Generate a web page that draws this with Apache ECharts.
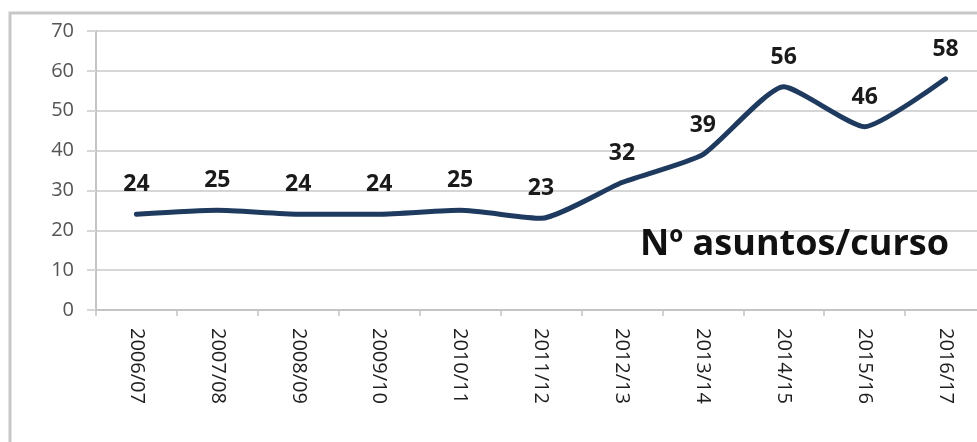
<!DOCTYPE html>
<html>
<head>
<meta charset="utf-8">
<script src="https://cdn.jsdelivr.net/npm/echarts@6/dist/echarts.min.js"></script>
<style>
  html, body { margin: 0; padding: 0; background: #fff; }
  #chart { width: 977px; height: 442px; }
</style>
</head>
<body>
<div id="chart"></div>
<script>
// course years and number of matters per course
const cursos = ['2006/07', '2007/08', '2008/09', '2009/10', '2010/11', '2011/12',
  '2012/13', '2013/14', '2014/15', '2015/16', '2016/17']
const asuntos = [24, 25, 24, 24, 25, 23, 32, 39, 56, 46, 58]
const yTicks = { min: 0, max: 70, interval: 10 }
const titulo = 'Nº asuntos/curso'

const font = '"Open Sans", "DejaVu Sans", sans-serif'
const lineColor = '#1f3a5f'

const chart = echarts.init(document.getElementById('chart'), null, { renderer: 'canvas' })

const option = {
  animation: false,
  backgroundColor: '#fff',
  // the plot area runs a little past the right edge of the picture
  grid: { left: 96, top: 31, width: 890, bottom: 132, containLabel: false, outerBoundsMode: 'none' },
  graphic: [
    {
      type: 'rect',
      shape: { x: 10, y: 13, width: 1000, height: 500 },
      style: { fill: 'none', stroke: '#c8c8c8', lineWidth: 3 },
      z: 0
    },
    {
      type: 'text',
      x: 640,
      y: 245,
      style: {
        text: titulo,
        font: 'bold 36px ' + font,
        fill: '#111',
        verticalAlign: 'middle',
        align: 'left'
      },
      z: 10
    }
  ],
  xAxis: {
    type: 'category',
    data: cursos,
    boundaryGap: true,
    axisLine: { lineStyle: { color: '#c4c4c4', width: 2 } },
    axisTick: { show: true, length: 6, lineStyle: { color: '#c4c4c4', width: 1.5 } },
    axisLabel: {
      rotate: -90,
      margin: 18,
      color: '#1e1e1e',
      fontFamily: font,
      fontSize: 20
    },
    splitLine: { show: false }
  },
  yAxis: {
    type: 'value',
    min: yTicks.min,
    max: yTicks.max,
    interval: yTicks.interval,
    axisLine: { show: true, lineStyle: { color: '#c4c4c4', width: 2 } },
    axisTick: { show: true, length: 9, lineStyle: { color: '#d6d6d6', width: 2 } },
    axisLabel: { margin: 22, color: '#555', fontFamily: font, fontSize: 20 },
    splitLine: { lineStyle: { color: '#d6d6d6', width: 2 } }
  },
  series: [
    {
      type: 'line',
      data: asuntos,
      smooth: 0.18,
      symbol: 'circle',
      symbolSize: 4,
      showSymbol: true,
      itemStyle: { color: lineColor, borderWidth: 0 },
      lineStyle: { color: lineColor, width: 5, cap: 'round' },
      label: {
        show: true,
        position: 'top',
        distance: 16,
        color: '#1a1a1a',
        fontFamily: font,
        fontWeight: 'bold',
        fontSize: 23
      },
      z: 5
    }
  ]
}

chart.setOption(option)
</script>
</body>
</html>
